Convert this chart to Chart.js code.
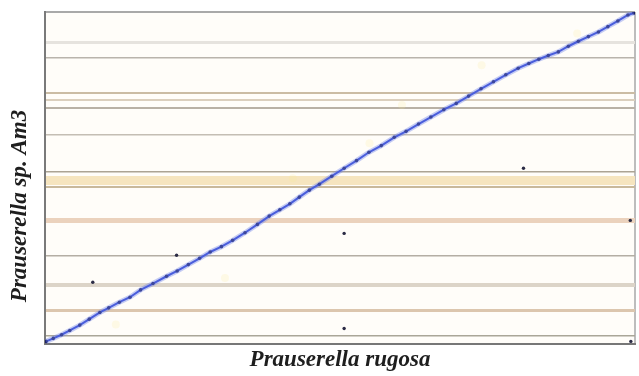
<!DOCTYPE html>
<html>
<head>
<meta charset="utf-8">
<script src="https://cdn.jsdelivr.net/npm/chart.js@4/dist/chart.umd.min.js"></script>
<style>
  html, body { margin: 0; padding: 0; background: #ffffff; }
  #wrap { width: 639px; height: 376px; position: relative; }
</style>
</head>
<body>
<div id="wrap"><canvas id="dotplot"></canvas></div>
<script>
// Genome positions (% of genome length): P. rugosa on x, Prauserella sp. Am3 on y
const matchX = [0.2,1.4,2.8,4.2,5.9,7.5,9.3,10.8,12.6,14.4,16.2,18.3,20.6,22.4,24.3,26.2,28.0,29.9,31.8,33.9,36.0,38.0,39.8,41.5,43.1,44.8,46.5,48.6,50.7,52.8,54.9,57.0,59.2,61.2,63.3,65.4,67.6,69.7,71.8,73.9,76.0,78.1,80.2,82.0,83.7,85.3,87.0,88.7,90.4,92.1,93.8,95.4,97.1,98.8,99.8];
const matchY = [0.9,1.8,2.9,4.2,5.8,7.6,9.6,11.0,12.7,14.2,16.4,18.3,20.5,22.1,24.0,25.9,27.8,29.4,31.3,33.6,36.1,38.6,40.5,42.3,44.3,46.4,48.2,50.6,53.0,55.3,57.8,59.8,62.3,64.1,66.3,68.4,70.6,72.5,74.7,76.9,79.0,81.1,83.1,84.5,85.8,86.9,88.0,89.7,91.2,92.6,94.0,95.6,97.3,99.1,99.7];

// Isolated short matches away from the main diagonal
const strayX = [50.7, 81.1, 99.2, 50.7, 8.1, 22.3, 99.3];
const strayY = [33.4, 53.0, 37.3, 4.8, 18.7, 26.8, 0.9];

// Weak hits
const weakX = [42.0, 60.5, 74.0, 90.2, 55.0, 30.5, 12.0];
const weakY = [50.0, 72.0, 84.0, 93.5, 60.5, 20.0, 6.0];

// Contig boundaries of the Am3 assembly (% of assembly length)
const contigEnds = [0, 2.7, 10.2, 17.8, 26.8, 37.3, 47.3, 49.4, 51.8, 63.0, 71.1, 73.5, 75.6, 86.1, 90.7, 100];

// Line style of each boundary, same order as contigEnds
const boundaryColors = ['#7d7d7d','#aaa698','#dcc6ae','#dcd4c8','#b4aea4','#ebd2bd','#c9b99b','#f6e5bf','#aca494','#c4beb4','#b9b1a5','#dbcfbd','#cbbca4','#b9b4ac','#e6e3de','#a9a9a9'];
const boundaryWidths = [2, 1.5, 3, 4, 1.5, 5, 2, 9, 1.5, 1.5, 2, 2, 2, 1.5, 3, 2];

const plotBackground = {
  id: 'plotBackground',
  beforeDraw(chart) {
    const { ctx, chartArea: a } = chart;
    ctx.save();
    ctx.fillStyle = '#fffdf9';
    ctx.fillRect(a.left, a.top, a.right - a.left, a.bottom - a.top);
    ctx.restore();
  }
};

const sideTitle = {
  id: 'sideTitle',
  afterDraw(chart) {
    const { ctx, chartArea: a } = chart;
    ctx.save();
    ctx.translate(20, a.top + 194);
    ctx.rotate(-Math.PI / 2);
    ctx.font = 'italic bold 23px "Liberation Serif"';
    ctx.fillStyle = '#1e1e1e';
    ctx.textAlign = 'center';
    ctx.textBaseline = 'middle';
    ctx.fillText('Prauserella sp. Am3', 0, 0);
    ctx.restore();
  }
};

const pts = (xs, ys) => xs.map((x, i) => ({ x, y: ys[i] }));

new Chart(document.getElementById('dotplot'), {
  type: 'scatter',
  data: {
    datasets: [
      {
        data: pts(weakX, weakY),
        pointRadius: 4,
        pointBackgroundColor: 'rgba(250,236,150,0.2)',
        pointBorderWidth: 0
      },
      {
        data: pts(matchX, matchY),
        showLine: true,
        borderColor: 'rgba(110,130,235,0.4)',
        borderWidth: 5,
        pointRadius: 0
      },
      {
        data: pts(matchX, matchY),
        showLine: true,
        borderColor: '#3346d2',
        borderWidth: 2,
        pointRadius: 1.8,
        pointBackgroundColor: '#1b2068',
        pointBorderWidth: 0
      },
      {
        data: pts(strayX, strayY),
        pointRadius: 1.7,
        pointBackgroundColor: '#2b2b45',
        pointBorderWidth: 0
      }
    ]
  },
  options: {
    responsive: true,
    maintainAspectRatio: false,
    animation: false,
    layout: { padding: { left: 45, top: 12, right: 2, bottom: 2 } },
    plugins: { legend: { display: false }, tooltip: { enabled: false } },
    scales: {
      x: {
        type: 'linear',
        min: 0,
        max: 100,
        afterBuildTicks(scale) { scale.ticks = [{ value: 100 }]; },
        ticks: { display: false },
        grid: { drawTicks: false, color: '#bdbdbd', lineWidth: 2 },
        border: { display: true, color: '#777777', width: 2 },
        title: {
          display: true,
          text: 'Prauserella rugosa',
          color: '#1e1e1e',
          font: { family: '"Liberation Serif"', size: 23, style: 'italic', weight: 'bold' },
          padding: { top: 2, bottom: 0 }
        }
      },
      y: {
        type: 'linear',
        min: 0,
        max: 100,
        afterBuildTicks(scale) { scale.ticks = contigEnds.map(v => ({ value: v })); },
        ticks: { display: false },
        grid: {
          drawTicks: false,
          color: ctx => boundaryColors[ctx.index],
          lineWidth: ctx => boundaryWidths[ctx.index]
        },
        border: { display: true, color: '#7a7a7a', width: 2 }
      }
    }
  },
  plugins: [plotBackground, sideTitle]
});
</script>
</body>
</html>
